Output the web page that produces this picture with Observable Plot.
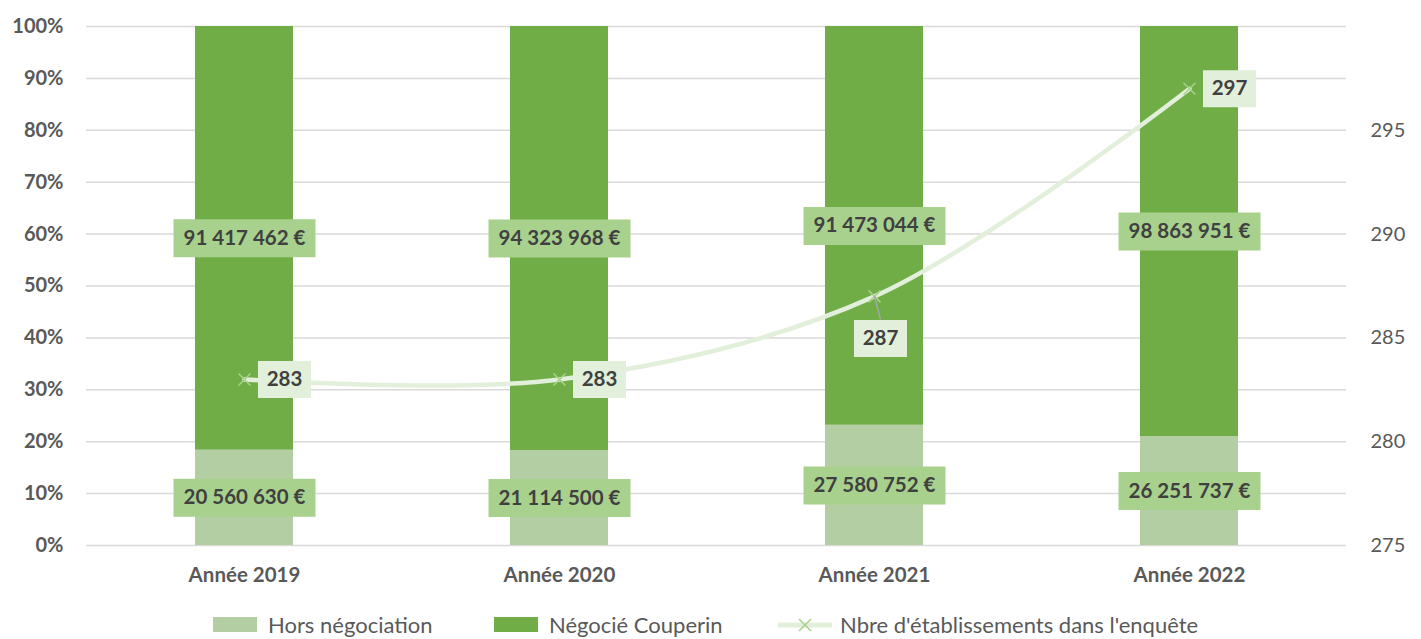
<!DOCTYPE html>
<html><head><meta charset="utf-8">
<script src="https://cdn.jsdelivr.net/npm/d3@7"></script>
<script src="https://cdn.jsdelivr.net/npm/@observablehq/plot@0.6"></script>
<style>
body{margin:0;background:#fff;font-family:Lato,"Open Sans",sans-serif;}
#chart{position:relative;width:1421px;height:639px;overflow:hidden}
.legend{position:absolute;top:611px;left:0;width:1421px;height:27px;font-size:22px;line-height:27px;color:#595959}
.item{position:absolute;top:0;height:27px;display:flex;align-items:center;white-space:nowrap}
.sw{display:inline-block;width:44px;height:15px;margin-right:11px}
</style></head><body><div id="chart"></div>
<script>
const years = ["Année 2019", "Année 2020", "Année 2021", "Année 2022"];
const seriesNames = ["Hors négociation", "Négocié Couperin"];
const horsNegociation = [20560630, 21114500, 27580752, 26251737];
const negocieCouperin = [91417462, 94323968, 91473044, 98863951];
const etablissements = [283, 283, 287, 297];
const lineName = "Nbre d'établissements dans l'enquête";
const leftTicks = [0, 0.1, 0.2, 0.3, 0.4, 0.5, 0.6, 0.7, 0.8, 0.9, 1];
const rightTicks = [275, 280, 285, 290, 295];
const rightDomain = [275, 300];

const colors = {hors: "#b4cea4", nego: "#70ad47", label: "#a9d18e", line: "#e2efda", marker: "#a9d18e"};

const bars = [];
years.forEach((y, i) => {
  bars.push({year: y, series: seriesNames[0], value: horsNegociation[i]});
  bars.push({year: y, series: seriesNames[1], value: negocieCouperin[i]});
});
const lineData = years.map((y, i) => ({year: y, v: etablissements[i]}));
const toLeft = v => (v - rightDomain[0]) / (rightDomain[1] - rightDomain[0]);

const loc = d3.formatLocale({decimal: ",", thousands: " ", grouping: [3], currency: ["", " €"]});
const fmt = loc.format(",");
const euro = v => fmt(v) + " €";

const box = (w, h) => ({draw(ctx) { ctx.moveTo(-w/2, -h/2); ctx.lineTo(w/2, -h/2); ctx.lineTo(w/2, h/2); ctx.lineTo(-w/2, h/2); ctx.closePath(); }});
const leader = {draw(ctx) { ctx.moveTo(0, 0); ctx.lineTo(6, 23); }};
const cross = {draw(ctx) { const s = 6; ctx.moveTo(-s, -s); ctx.lineTo(s, s); ctx.moveTo(-s, s); ctx.lineTo(s, -s); }};

const stackOpts = (extra) => Plot.stackY({x: "year", y: "value", z: "series", offset: "normalize", order: null, ...extra});

const plot = Plot.plot({
  width: 1421,
  height: 600,
  marginTop: 26,
  marginBottom: 55,
  marginLeft: 86,
  marginRight: 75,
  style: {fontFamily: "Lato, 'Open Sans', sans-serif", fontSize: "20px", color: "#595959", background: "#fff"},
  x: {domain: years, paddingInner: 0.69, paddingOuter: 0.345, label: null},
  y: {domain: [0, 1], label: null},
  color: {domain: seriesNames, range: [colors.hors, colors.nego]},
  marks: [
    Plot.ruleY(leftTicks, {stroke: "#d9d9d9", strokeWidth: 1.5}),
    Plot.axisY(leftTicks, {anchor: "left", tickSize: 0, tickPadding: 23, tickFormat: d => Math.round(d * 100) + "%", fontWeight: "bold", label: null, fill: "#595959"}),
    Plot.axisY(rightTicks.map(toLeft), {anchor: "right", tickSize: 0, tickPadding: 24, tickFormat: d => String(Math.round(rightDomain[0] + d * (rightDomain[1] - rightDomain[0]))), textAnchor: "start", label: null, fill: "#595959"}),
    Plot.axisX({tickSize: 0, tickPadding: 22, fontWeight: "bold", fontSize: 20.5, label: null, fill: "#595959"}),
    Plot.barY(bars, stackOpts({fill: "series"})),
    Plot.line(lineData, {x: "year", y: d => toLeft(d.v), curve: "catmull-rom", stroke: colors.line, strokeWidth: 4.5}),
    Plot.dot(lineData, {x: "year", y: d => toLeft(d.v), symbol: cross, r: 6, stroke: colors.marker, strokeWidth: 1.5, fill: "none"}),
    Plot.dot(bars, stackOpts({symbol: box(142, 38), fill: colors.label, stroke: "none", r: 10})),
    Plot.text(bars, stackOpts({text: d => euro(d.value), fill: "#404040", fontWeight: "bold", fontSize: 20.5})),
    Plot.dot(lineData, {filter: d => d.year === "Année 2021", x: "year", y: d => toLeft(d.v), symbol: leader, stroke: "#a6a6a6", strokeWidth: 1.5, fill: "none", r: 5}),
    Plot.dot(lineData, {filter: d => d.year !== "Année 2021", x: "year", y: d => toLeft(d.v), dx: 40, symbol: box(53, 37), fill: colors.line, stroke: "none", r: 5}),
    Plot.text(lineData, {filter: d => d.year !== "Année 2021", x: "year", y: d => toLeft(d.v), dx: 40, text: d => String(d.v), fill: "#404040", fontWeight: "bold", fontSize: 20.5}),
    Plot.dot(lineData, {filter: d => d.year === "Année 2021", x: "year", y: d => toLeft(d.v), dx: 6, dy: 42, symbol: box(53, 37), fill: colors.line, stroke: "none", r: 5}),
    Plot.text(lineData, {filter: d => d.year === "Année 2021", x: "year", y: d => toLeft(d.v), dx: 6, dy: 42, text: d => String(d.v), fill: "#404040", fontWeight: "bold", fontSize: 20.5})
  ]
});

const chart = document.getElementById("chart");
chart.appendChild(plot);

const legend = document.createElement("div");
legend.className = "legend";
const items = [
  {left: 213, html: `<span class="sw" style="background:${colors.hors}"></span>${seriesNames[0]}`},
  {left: 494, html: `<span class="sw" style="background:${colors.nego}"></span>${seriesNames[1]}`},
  {left: 778, html: `<svg width="54" height="20" style="margin-right:8px"><line x1="0" y1="10" x2="54" y2="10" stroke="${colors.line}" stroke-width="5" stroke-linecap="round"/><path d="M21,4L33,16M21,16L33,4" stroke="${colors.marker}" stroke-width="1.5"/></svg>${lineName}`}
];
items.forEach(it => {
  const d = document.createElement("div");
  d.className = "item";
  d.style.left = it.left + "px";
  d.innerHTML = it.html;
  legend.appendChild(d);
});
chart.appendChild(legend);
</script>
</body></html>
